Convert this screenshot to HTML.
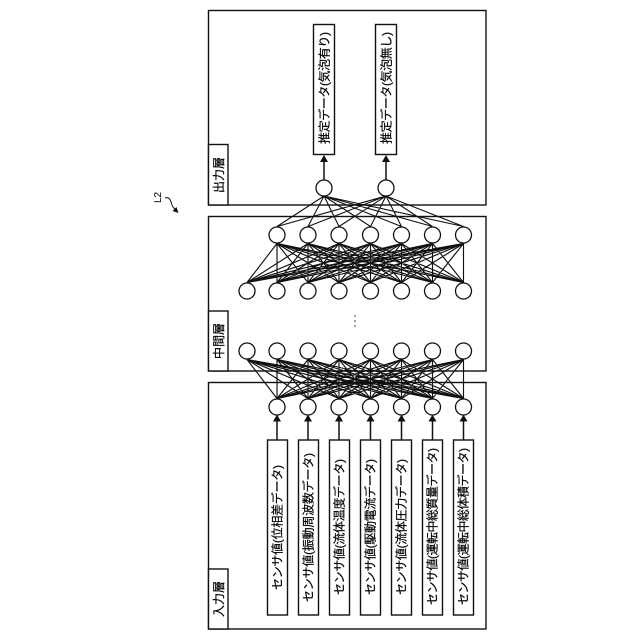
<!DOCTYPE html>
<html><head><meta charset="utf-8"><style>
html,body{margin:0;padding:0;background:#fff}
svg{display:block}
text{font-family:"Liberation Sans","Noto Sans CJK JP",sans-serif;fill:#000;font-size:12px;stroke:#000;stroke-width:.2}
</style></head><body>
<svg xmlns="http://www.w3.org/2000/svg" width="640" height="640" viewBox="0 0 640 640">
<defs>
<path id="bip" fill="none" stroke="#111" stroke-width="1.15" d="
M277 243.5L247 282.5ZL277 282.5ZL308 282.5ZL339 282.5ZL370.5 282.5ZL401.5 282.5ZL432.5 282.5ZL463.5 282.5Z
M308 243.5L247 282.5ZL277 282.5ZL308 282.5ZL339 282.5ZL370.5 282.5ZL401.5 282.5ZL432.5 282.5ZL463.5 282.5Z
M339 243.5L247 282.5ZL277 282.5ZL308 282.5ZL339 282.5ZL370.5 282.5ZL401.5 282.5ZL432.5 282.5ZL463.5 282.5Z
M370.5 243.5L247 282.5ZL277 282.5ZL308 282.5ZL339 282.5ZL370.5 282.5ZL401.5 282.5ZL432.5 282.5ZL463.5 282.5Z
M401.5 243.5L247 282.5ZL277 282.5ZL308 282.5ZL339 282.5ZL370.5 282.5ZL401.5 282.5ZL432.5 282.5ZL463.5 282.5Z
M432.5 243.5L247 282.5ZL277 282.5ZL308 282.5ZL339 282.5ZL370.5 282.5ZL401.5 282.5ZL432.5 282.5ZL463.5 282.5Z
M463.5 243.5L247 282.5ZL277 282.5ZL308 282.5ZL339 282.5ZL370.5 282.5ZL401.5 282.5ZL432.5 282.5ZL463.5 282.5Z"/>
</defs>

<!-- layer frames -->
<g fill="#fff" stroke="#111" stroke-width="1.4">
<rect x="208.5" y="10.5" width="277.5" height="194.5"/>
<rect x="208.5" y="216.5" width="277.5" height="154.5"/>
<rect x="208.5" y="382.5" width="277.5" height="246.5"/>
<rect x="208.5" y="144.5" width="19.5" height="60.5"/>
<rect x="208.5" y="311" width="19.5" height="60"/>
<rect x="208.5" y="569" width="19.5" height="60"/>
</g>

<!-- connections -->
<use href="#bip"/>
<use href="#bip" transform="matrix(1 0 0 -1 0 642)"/>
<path fill="none" stroke="#111" stroke-width="1.1" d="
M324 196L277 226.5ZL308 226.5ZL339 226.5ZL370.5 226.5ZL401.5 226.5ZL432.5 226.5ZL463.5 226.5Z
M386 196L277 226.5ZL308 226.5ZL339 226.5ZL370.5 226.5ZL401.5 226.5ZL432.5 226.5ZL463.5 226.5Z"/>

<!-- nodes -->
<g fill="#fff" stroke="#111" stroke-width="1.3">
<circle cx="324" cy="188" r="8"/><circle cx="386" cy="188" r="8"/>
<circle cx="277" cy="235" r="8"/><circle cx="308" cy="235" r="8"/><circle cx="339" cy="235" r="8"/><circle cx="370.5" cy="235" r="8"/><circle cx="401.5" cy="235" r="8"/><circle cx="432.5" cy="235" r="8"/><circle cx="463.5" cy="235" r="8"/>
<circle cx="247" cy="291" r="8"/><circle cx="277" cy="291" r="8"/><circle cx="308" cy="291" r="8"/><circle cx="339" cy="291" r="8"/><circle cx="370.5" cy="291" r="8"/><circle cx="401.5" cy="291" r="8"/><circle cx="432.5" cy="291" r="8"/><circle cx="463.5" cy="291" r="8"/>
<circle cx="247" cy="351" r="8"/><circle cx="277" cy="351" r="8"/><circle cx="308" cy="351" r="8"/><circle cx="339" cy="351" r="8"/><circle cx="370.5" cy="351" r="8"/><circle cx="401.5" cy="351" r="8"/><circle cx="432.5" cy="351" r="8"/><circle cx="463.5" cy="351" r="8"/>
<circle cx="277" cy="407" r="8"/><circle cx="308" cy="407" r="8"/><circle cx="339" cy="407" r="8"/><circle cx="370.5" cy="407" r="8"/><circle cx="401.5" cy="407" r="8"/><circle cx="432.5" cy="407" r="8"/><circle cx="463.5" cy="407" r="8"/>
</g>

<!-- ellipsis -->
<g fill="#333"><circle cx="355" cy="316" r="0.8"/><circle cx="355" cy="321" r="0.8"/><circle cx="355" cy="326" r="0.8"/></g>

<!-- boxes -->
<g fill="#fff" stroke="#111" stroke-width="1.4">
<rect x="313.5" y="24.5" width="21" height="130"/>
<rect x="375.500" y="24.5" width="21" height="130"/>
<rect x="267.5" y="440" width="20" height="175"/>
<rect x="298.5" y="440" width="20" height="175"/>
<rect x="329.5" y="440" width="20" height="175"/>
<rect x="360.5" y="440" width="20" height="175"/>
<rect x="391.5" y="440" width="20" height="175"/>
<rect x="422.5" y="440" width="20" height="175"/>
<rect x="453.5" y="440" width="20" height="175"/>
</g>

<!-- arrows -->
<g stroke="#111" stroke-width="1.5" fill="none">
<path d="M324 180V160M386 180V160M277 440V420M308 440V420M339 440V420M370.5 440V420M401.5 440V420M432.5 440V420M463.5 440V420"/>
</g>
<g fill="#111">
<path d="M324 155l-4 7h8zM386 155l-4 7h8zM277 414.500l-4 7h8zM308 414.500l-4 7h8zM339 414.500l-4 7h8zM370.5 414.500l-4 7h8zM401.5 414.500l-4 7h8zM432.5 414.500l-4 7h8zM463.5 414.500l-4 7h8z"/>
</g>

<!-- labels -->
<text transform="translate(223,193) rotate(-90)" textLength="36" lengthAdjust="spacing">出力層</text>
<text transform="translate(223,359) rotate(-90)" textLength="36" lengthAdjust="spacing">中間層</text>
<text transform="translate(223,617) rotate(-90)" textLength="36" lengthAdjust="spacing">入力層</text>

<text transform="translate(328.500,144) rotate(-90)" textLength="112" lengthAdjust="spacing">推定データ(気泡有り)</text>
<text transform="translate(390.500,144) rotate(-90)" textLength="112" lengthAdjust="spacing">推定データ(気泡無し)</text>

<text transform="translate(281.5,590) rotate(-90)" textLength="125" lengthAdjust="spacing">センサ値(位相差データ)</text>
<text transform="translate(312.5,602) rotate(-90)" textLength="149" lengthAdjust="spacing">センサ値(振動周波数データ)</text>
<text transform="translate(343.5,595) rotate(-90)" textLength="136" lengthAdjust="spacing">センサ値(流体温度データ)</text>
<text transform="translate(374.5,595) rotate(-90)" textLength="136" lengthAdjust="spacing">センサ値(駆動電流データ)</text>
<text transform="translate(405.5,595) rotate(-90)" textLength="136" lengthAdjust="spacing">センサ値(流体圧力データ)</text>
<text transform="translate(436.5,605) rotate(-90)" textLength="157" lengthAdjust="spacing">センサ値(運転中総質量データ)</text>
<text transform="translate(467.5,605) rotate(-90)" textLength="157" lengthAdjust="spacing">センサ値(運転中総体積データ)</text>

<!-- L2 -->
<text transform="translate(161,203) rotate(-90)" style="font-size:10px;stroke-width:0">L2</text>
<path d="M165 198C170 196 171 202 172 205C173 208 174 208 176 210" fill="none" stroke="#111" stroke-width="1"/>
<path d="M178.500 213L172.500 211L176.500 207Z" fill="#111"/>
</svg>
</body></html>
